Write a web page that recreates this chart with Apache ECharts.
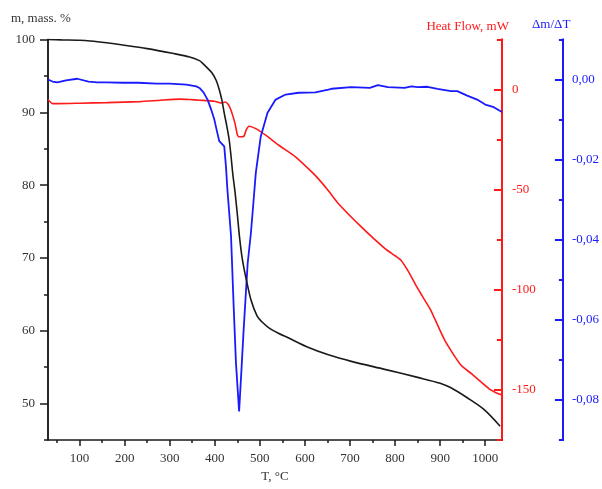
<!DOCTYPE html>
<html>
<head>
<meta charset="utf-8">
<script src="https://cdn.jsdelivr.net/npm/echarts@6/dist/echarts.min.js"></script>
<style>html,body{margin:0;padding:0;background:#fff}#c{width:602px;height:489px}</style>
</head>
<body>
<div id="c"></div>
<script>
// ---- data ----
const massT = [30, 60, 100, 124, 160, 196, 250, 306, 344, 366, 372, 385, 394, 403, 410, 416, 421, 427, 432, 436, 440, 445, 450, 455, 460, 465, 470, 480, 494, 505, 520, 540, 564, 608, 652, 703, 777, 850, 900, 923, 960, 997, 1033];
const massV = [100, 99.95, 99.9, 99.8, 99.55, 99.25, 98.75, 98.1, 97.6, 97.1, 96.8, 96.0, 95.4, 94.4, 93.1, 91.6, 89.9, 88.0, 86.2, 84.0, 81.5, 79.0, 76.0, 72.8, 70.3, 68.5, 67.0, 64.3, 62.0, 61.2, 60.4, 59.7, 59.0, 57.7, 56.7, 55.8, 54.7, 53.6, 52.8, 52.2, 50.8, 49.2, 46.9];

const hfT = [30, 40, 51, 100, 161, 234, 280, 322, 344, 366, 399, 414, 423, 430, 436, 445, 450, 454, 460, 465, 470, 476, 491, 513, 542, 579, 615, 630, 652, 674, 725, 777, 800, 813, 830, 846, 860, 879, 910, 946, 970, 990, 1012, 1025, 1037];
const hfV = [-5.0, -7.0, -7.0, -6.8, -6.5, -6.0, -5.3, -4.8, -5.0, -5.3, -5.8, -6.7, -6.2, -7.5, -10.3, -17, -22.5, -23.6, -23.6, -23.2, -20, -18.3, -19.5, -22.8, -27.8, -33.6, -41.1, -44.6, -50.5, -56.9, -68.6, -79.3, -83, -85.2, -91, -97.7, -103, -110.1, -125.1, -137.6, -142, -145.9, -150, -151.5, -152.5];

const dT = [30, 40, 51, 70, 95, 120, 139, 160, 196, 230, 271, 300, 337, 359, 366, 375, 384, 392, 399, 405, 410, 421, 425, 428, 436, 442, 447, 454, 460, 464, 473, 480, 485, 491, 502, 517, 535, 557, 586, 623, 652, 659, 703, 744, 762, 784, 821, 836, 850, 872, 894, 924, 938, 960, 982, 1000, 1019, 1037];
const dV = [0.0, -0.0005, -0.0007, -0.0002, 0.0002, -0.0005, -0.0007, -0.0007, -0.0008, -0.0008, -0.001, -0.001, -0.00125, -0.0017, -0.0021, -0.0032, -0.005, -0.0075, -0.010, -0.013, -0.0154, -0.0167, -0.022, -0.0275, -0.039, -0.057, -0.0708, -0.0829, -0.0708, -0.0625, -0.0458, -0.0385, -0.0317, -0.0233, -0.0142, -0.0083, -0.005, -0.00375, -0.0033, -0.0032, -0.0025, -0.0023, -0.0019, -0.0021, -0.0014, -0.0019, -0.0021, -0.0017, -0.0019, -0.0018, -0.0023, -0.0029, -0.0029, -0.004, -0.005, -0.00625, -0.0069, -0.0081];

const xMajor = [100, 200, 300, 400, 500, 600, 700, 800, 900, 1000];
const xMinor = [50, 150, 250, 350, 450, 550, 650, 750, 850, 950];
const mMajor = [50, 60, 70, 80, 90, 100];
const mMinor = [45, 55, 65, 75, 85, 95];
const hfMajor = [-150, -100, -50, 0];
const hfMinor = [-175, -125, -75, -25, 25];
const dMajor = [0, -0.02, -0.04, -0.06, -0.08];
const dMinor = [0.01, -0.01, -0.03, -0.05, -0.07, -0.09];

// ---- chart ----
const FONT = 'Liberation Serif';
const RED = '#ff1a1a', BLUE = '#1a1aff', BLK = '#1a1a1a';
const zip = (a, b) => a.map((v, i) => [v, b[i]]);

function yAx(opt) {
  return Object.assign({
    type: 'value', splitLine: { show: false },
    axisLine: { show: true, onZero: false, lineStyle: { color: opt.color, width: opt.lw } },
    axisLabel: { show: false },
    axisTick: { show: true, inside: opt.inside, length: opt.len, customValues: opt.ticks, lineStyle: { color: opt.color, width: opt.lw } }
  }, opt.extra || {});
}

const chart = echarts.init(document.getElementById('c'), null, { renderer: 'canvas' });
chart.setOption({
  animation: false,
  backgroundColor: '#fff',
  grid: { left: 48, right: 97, top: 39.5, bottom: 49 },
  xAxis: [
    {
      type: 'value', min: 30, max: 1037, position: 'bottom',
      splitLine: { show: false },
      axisLine: { onZero: false, lineStyle: { color: BLK, width: 1.5 } },
      axisTick: { inside: false, length: 6, customValues: xMajor, lineStyle: { color: BLK, width: 1.5 } },
      axisLabel: { customValues: xMajor, margin: 12, fontFamily: FONT, fontSize: 13, color: '#333', formatter: v => String(v) },
      name: 'T, °C', nameLocation: 'middle', nameGap: 27,
      nameTextStyle: { fontFamily: FONT, fontSize: 13, color: '#333' }
    },
    {
      type: 'value', min: 30, max: 1037, position: 'bottom',
      splitLine: { show: false },
      axisLine: { show: false, onZero: false },
      axisLabel: { show: false },
      axisTick: { inside: false, length: 3, customValues: xMinor, lineStyle: { color: BLK, width: 1.5 } }
    }
  ],
  yAxis: [
    yAx({ color: BLK, lw: 1.5, inside: false, len: 8, ticks: mMajor, extra: { min: 45, max: 100, position: 'left',
      axisLabel: { show: true, customValues: mMajor, margin: 13, fontFamily: FONT, fontSize: 13, color: '#333' } } }),
    yAx({ color: BLK, lw: 1.5, inside: false, len: 4, ticks: mMinor, extra: { min: 45, max: 100, position: 'left' } }),
    yAx({ color: RED, lw: 2, inside: true, len: 8, ticks: hfMajor, extra: { min: -175, max: 25, position: 'right', offset: 0,
      axisLabel: { show: true, customValues: hfMajor, margin: 10, fontFamily: FONT, fontSize: 13, color: RED } } }),
    yAx({ color: RED, lw: 2, inside: true, len: 5, ticks: hfMinor, extra: { min: -175, max: 25, position: 'right', offset: 0 } }),
    yAx({ color: BLUE, lw: 2, inside: true, len: 8, ticks: dMajor, extra: { min: -0.09, max: 0.01, position: 'right', offset: 61,
      axisLabel: { show: true, customValues: dMajor, margin: 9, fontFamily: FONT, fontSize: 13, color: BLUE,
        formatter: v => v.toFixed(2).replace('.', ',').replace('-0,00', '0,00') } } }),
    yAx({ color: BLUE, lw: 2, inside: true, len: 4, ticks: dMinor, extra: { min: -0.09, max: 0.01, position: 'right', offset: 61 } })
  ],
  graphic: [
    { type: 'text', x: 11, y: 19, style: { text: 'm, mass. %', font: '13px "Liberation Serif"', fill: '#333', align: 'left', verticalAlign: 'middle', textAlign: 'left', textVerticalAlign: 'middle' } },
    { type: 'text', x: 509, y: 27, style: { text: 'Heat Flow, mW', font: '13px "Liberation Serif"', fill: RED, align: 'right', verticalAlign: 'middle', textAlign: 'right', textVerticalAlign: 'middle' } },
    { type: 'text', x: 532, y: 25, style: { text: 'Δm/ΔT', font: '13px "Liberation Serif"', fill: BLUE, align: 'left', verticalAlign: 'middle', textAlign: 'left', textVerticalAlign: 'middle' } }
  ],
  series: [
    { name: 'Heat Flow', type: 'line', xAxisIndex: 0, yAxisIndex: 2, data: zip(hfT, hfV), showSymbol: false, smooth: 0.2,
      lineStyle: { color: RED, width: 1.6 }, itemStyle: { color: RED }, z: 3 },
    { name: 'Δm/ΔT', type: 'line', xAxisIndex: 0, yAxisIndex: 4, data: zip(dT, dV), showSymbol: false, smooth: false,
      lineStyle: { color: BLUE, width: 1.8 }, itemStyle: { color: BLUE }, z: 4 },
    { name: 'mass', type: 'line', xAxisIndex: 0, yAxisIndex: 0, data: zip(massT, massV), showSymbol: false, smooth: 0.3,
      lineStyle: { color: BLK, width: 1.6 }, itemStyle: { color: BLK }, z: 5 }
  ]
});
</script>
</body>
</html>
